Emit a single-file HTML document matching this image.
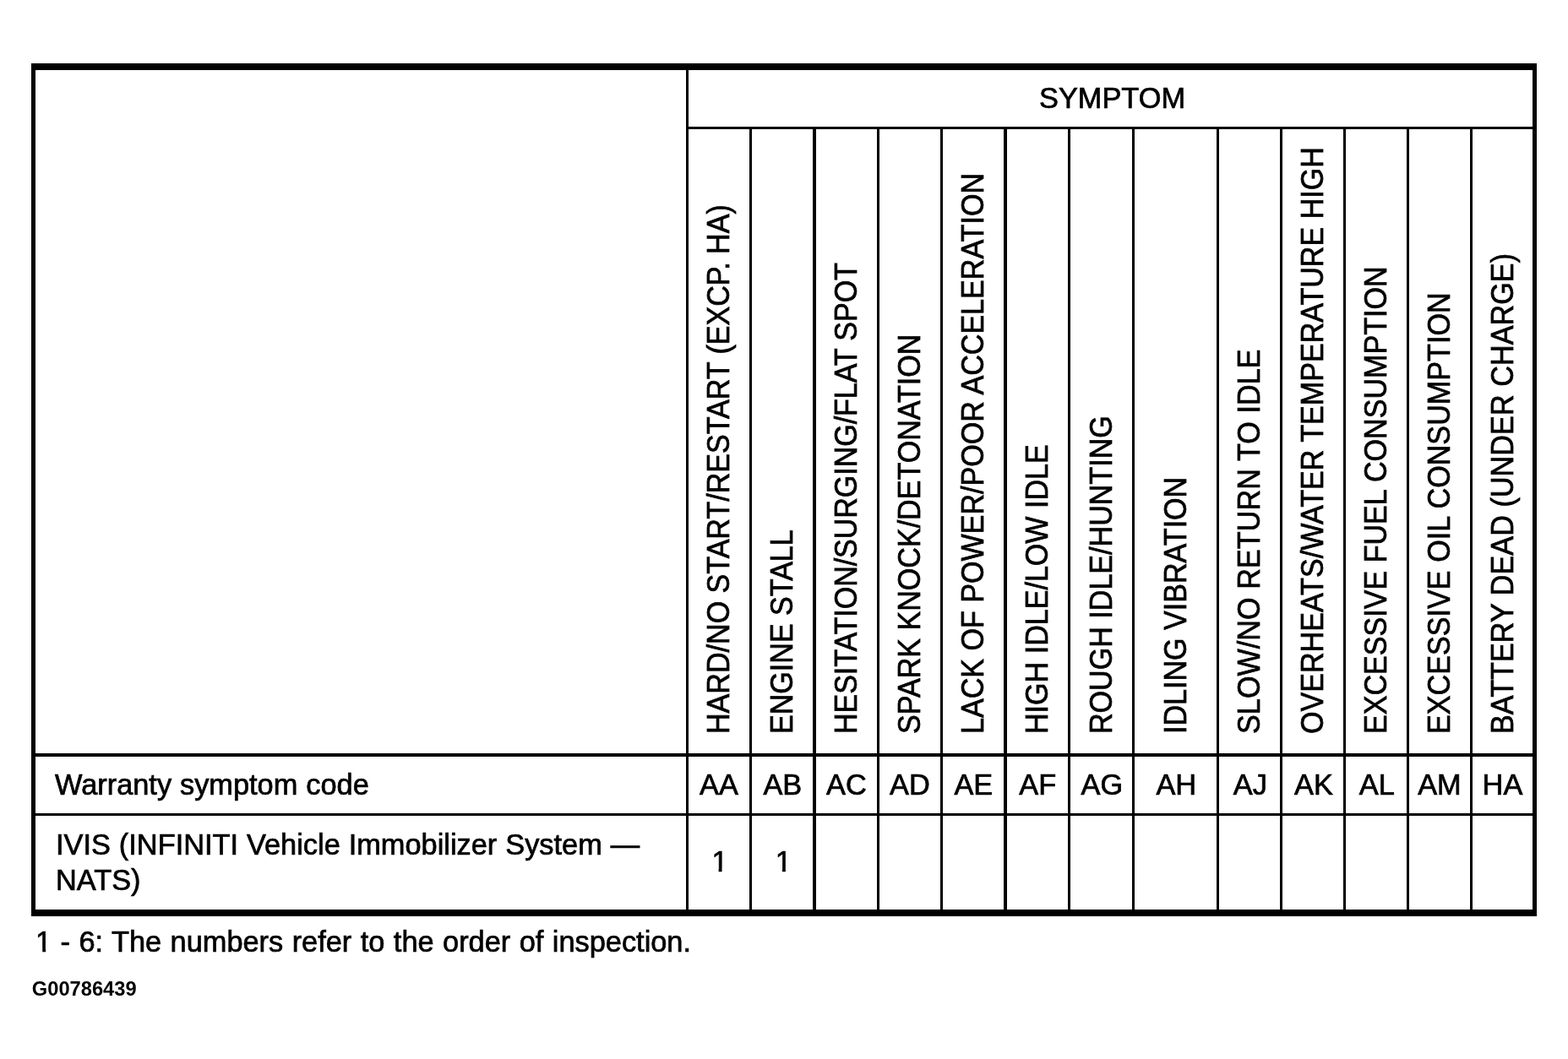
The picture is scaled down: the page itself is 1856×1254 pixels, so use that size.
<!DOCTYPE html>
<html lang="en"><head><meta charset="utf-8"><title>Symptom chart</title>
<style>
html,body{margin:0;padding:0;background:#fff;}
body{width:1856px;height:1254px;position:relative;overflow:hidden;font-family:"Liberation Sans",Arial,Helvetica,sans-serif;color:#000;font-size:34.1px;line-height:1;-webkit-text-stroke:0.7px #000;}
.l{position:absolute;background:#000;}
.t{position:absolute;white-space:nowrap;line-height:1;transform-origin:0 0;transform:scale(1.008,1.04);word-spacing:0.4px;}
.r{position:absolute;white-space:nowrap;line-height:1;transform-origin:0 0;transform:rotate(-90deg) scaleY(1.075);}
.o{display:inline-block;clip-path:polygon(-3px -3px,24px -3px,24px 25.4px,12px 25.4px,12px 31px,8.2px 31px,8.2px 25.4px,-3px 25.4px);}
.c{position:absolute;text-align:center;white-space:nowrap;line-height:1;transform-origin:50% 0;transform:scale(1.008,1.04);}
</style></head><body>

<div class="l" style="left:37px;top:75px;width:1782px;height:7.5px"></div>
<div class="l" style="left:37px;top:1077px;width:1782px;height:8px"></div>
<div class="l" style="left:37px;top:75px;width:5px;height:1010px"></div>
<div class="l" style="left:1813.7px;top:75px;width:5.3px;height:1010px"></div>
<div class="l" style="left:812px;top:150.3px;width:1003px;height:3px"></div>
<div class="l" style="left:40px;top:892.2px;width:1776px;height:3.6px"></div>
<div class="l" style="left:40px;top:963px;width:1776px;height:3px"></div>
<div class="l" style="left:811.5px;top:80px;width:3.4px;height:1000px"></div>
<div class="l" style="left:886.6px;top:151px;width:3.2px;height:929px"></div>
<div class="l" style="left:962.4px;top:151px;width:3.2px;height:929px"></div>
<div class="l" style="left:1037.5px;top:151px;width:3.2px;height:929px"></div>
<div class="l" style="left:1112.5px;top:151px;width:3.2px;height:929px"></div>
<div class="l" style="left:1188.4px;top:151px;width:3.2px;height:929px"></div>
<div class="l" style="left:1264.1px;top:151px;width:3.2px;height:929px"></div>
<div class="l" style="left:1340.2px;top:151px;width:3.2px;height:929px"></div>
<div class="l" style="left:1440px;top:151px;width:3.2px;height:929px"></div>
<div class="l" style="left:1514.8px;top:151px;width:3.2px;height:929px"></div>
<div class="l" style="left:1589.8px;top:151px;width:3.2px;height:929px"></div>
<div class="l" style="left:1664.6px;top:151px;width:3.2px;height:929px"></div>
<div class="l" style="left:1739.7px;top:151px;width:3.2px;height:929px"></div>
<div class="t" style="left:1229.6px;top:97.88px">SYMPTOM</div>
<div class="r" style="left:831.93px;top:869.3px">HARD/NO START/RESTART (EXCP. HA)</div>
<div class="r" style="left:907.38px;top:869.3px">ENGINE STALL</div>
<div class="r" style="left:982.83px;top:869.3px;letter-spacing:-0.07px">HESITATION/SURGING/FLAT SPOT</div>
<div class="r" style="left:1057.88px;top:869.3px">SPARK KNOCK/DETONATION</div>
<div class="r" style="left:1133.33px;top:869.3px">LACK OF POWER/POOR ACCELERATION</div>
<div class="r" style="left:1209.13px;top:869.3px">HIGH IDLE/LOW IDLE</div>
<div class="r" style="left:1285.03px;top:869.3px">ROUGH IDLE/HUNTING</div>
<div class="r" style="left:1372.98px;top:869.3px">IDLING VIBRATION</div>
<div class="r" style="left:1460.28px;top:869.3px;letter-spacing:0.11px">SLOW/NO RETURN TO IDLE</div>
<div class="r" style="left:1535.18px;top:869.3px">OVERHEATS/WATER TEMPERATURE HIGH</div>
<div class="r" style="left:1610.08px;top:869.3px">EXCESSIVE FUEL CONSUMPTION</div>
<div class="r" style="left:1685.03px;top:869.3px;letter-spacing:0.05px">EXCESSIVE OIL CONSUMPTION</div>
<div class="r" style="left:1759.63px;top:869.3px;letter-spacing:0.11px">BATTERY DEAD (UNDER CHARGE)</div>
<div class="c" style="left:815.2px;width:71.9px;top:910.98px">AA</div>
<div class="c" style="left:816.1px;width:71.9px;top:1001.88px"><span class="o">1</span></div>
<div class="c" style="left:890.3px;width:72.6px;top:910.98px">AB</div>
<div class="c" style="left:891.2px;width:72.6px;top:1001.88px"><span class="o">1</span></div>
<div class="c" style="left:966.1px;width:71.9px;top:910.98px">AC</div>
<div class="c" style="left:1041.2px;width:71.8px;top:910.98px">AD</div>
<div class="c" style="left:1116.2px;width:72.7px;top:910.98px">AE</div>
<div class="c" style="left:1192.1px;width:72.5px;top:910.98px">AF</div>
<div class="c" style="left:1267.8px;width:72.9px;top:910.98px">AG</div>
<div class="c" style="left:1343.9px;width:96.6px;top:910.98px">AH</div>
<div class="c" style="left:1443.7px;width:71.6px;top:910.98px">AJ</div>
<div class="c" style="left:1518.5px;width:71.8px;top:910.98px">AK</div>
<div class="c" style="left:1593.5px;width:71.6px;top:910.98px">AL</div>
<div class="c" style="left:1668.3px;width:71.9px;top:910.98px">AM</div>
<div class="c" style="left:1743.4px;width:70.9px;top:910.98px">HA</div>
<div class="t" style="left:65.3px;top:911.28px">Warranty symptom code</div>
<div class="t" style="left:65.8px;top:981.98px">IVIS (INFINITI Vehicle Immobilizer System —</div>
<div class="t" style="left:65.8px;top:1024.48px">NATS)</div>
<div class="t" style="left:42.3px;top:1096.68px;word-spacing:0.9px"><span class="o">1</span> - 6: The numbers refer to the order of inspection.</div>
<div class="t" style="left:37.8px;top:1159.64px;font-size:23.7px;font-weight:bold;-webkit-text-stroke:0;transform:none;word-spacing:0">G00786439</div>
</body></html>
